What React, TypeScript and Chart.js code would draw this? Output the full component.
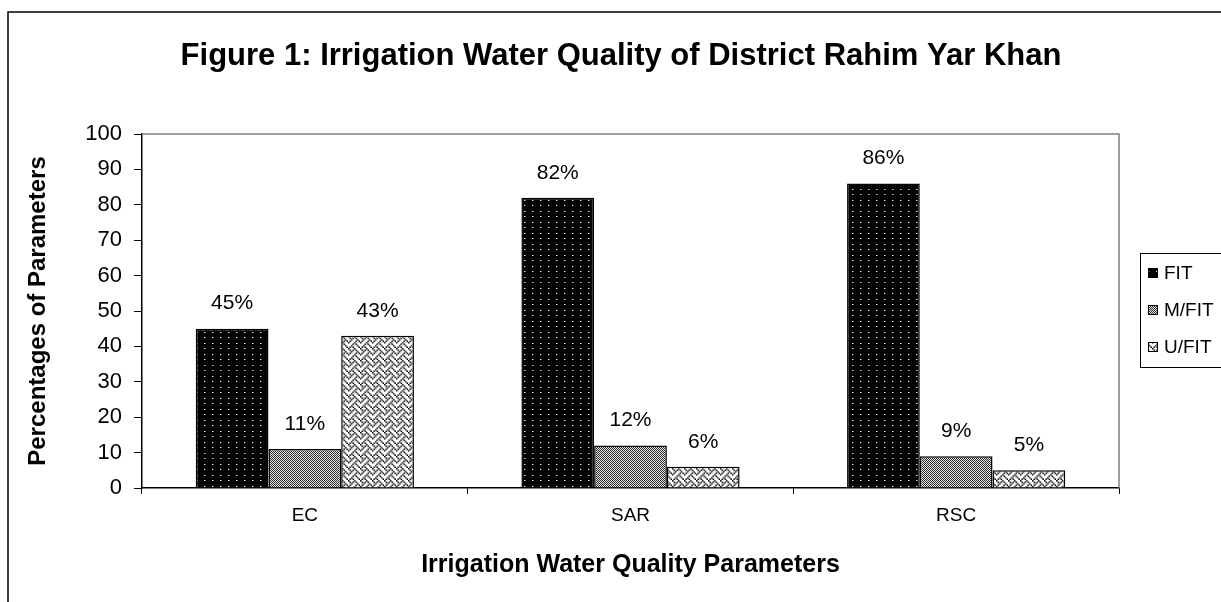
import React, { useEffect, useRef } from "react";
import { Chart, registerables } from "chart.js";

Chart.register(...registerables);

const chartTitle = "Figure 1: Irrigation Water Quality of District Rahim Yar Khan";
const xAxisTitle = "Irrigation Water Quality Parameters";
const yAxisTitle = "Percentages of Parameters";
const categories = ["EC", "SAR", "RSC"];
const seriesNames = ["FIT", "M/FIT", "U/FIT"];
const fitValues = [45, 82, 86];
const mfitValues = [11, 12, 9];
const ufitValues = [43, 6, 5];
const yMin = 0;
const yMax = 100;
const yStep = 10;

const FONT = "'Liberation Sans', Arial, sans-serif";

function makePattern(kind: string): CanvasPattern | string {
  const c = document.createElement("canvas");
  const ctx = c.getContext("2d");
  if (!ctx) return "#888";
  if (kind === "dots") {
    c.width = 8;
    c.height = 11;
    ctx.fillStyle = "#000";
    ctx.fillRect(0, 0, 8, 11);
    ctx.fillStyle = "#e6e6e6";
    ctx.fillRect(4, 2, 1, 1);
    ctx.fillRect(4, 7, 1, 1);
    ctx.fillStyle = "#707070";
    ctx.fillRect(5, 2, 1, 1);
    ctx.fillRect(5, 7, 1, 1);
  } else if (kind === "checker") {
    c.width = 2;
    c.height = 2;
    ctx.fillStyle = "#e4e4e4";
    ctx.fillRect(0, 0, 2, 2);
    ctx.fillStyle = "#2e2e2e";
    ctx.fillRect(0, 0, 1, 1);
    ctx.fillRect(1, 1, 1, 1);
  } else {
    const rows = [0x88, 0x54, 0x22, 0x45, 0x88, 0x14, 0x22, 0x51];
    const src = document.createElement("canvas");
    src.width = 8;
    src.height = 8;
    const sctx = src.getContext("2d")!;
    sctx.fillStyle = "#fff";
    sctx.fillRect(0, 0, 8, 8);
    sctx.fillStyle = "#000";
    rows.forEach((r, y) => {
      for (let x = 0; x < 8; x++) {
        if (r & (0x80 >> x)) sctx.fillRect(x, y, 1, 1);
      }
    });
    c.width = 12;
    c.height = 12;
    ctx.imageSmoothingEnabled = true;
    ctx.drawImage(src, 0, 0, 12, 12);
  }
  return ctx.createPattern(c, "repeat") || "#888";
}

export default function App() {
  const ref = useRef<HTMLCanvasElement>(null);

  useEffect(() => {
    if (!ref.current) return;
    const fills = [makePattern("dots"), makePattern("checker"), makePattern("weave")];
    const seriesValues = [fitValues, mfitValues, ufitValues];

    const decor = {
      id: "decor",
      beforeDraw(chart: any) {
        const ctx = chart.ctx;
        ctx.save();
        ctx.fillStyle = "#fff";
        ctx.fillRect(0, 0, chart.width, chart.height);
        ctx.restore();
      },
      afterDraw(chart: any) {
        const ctx = chart.ctx;
        const a = chart.chartArea;
        ctx.save();
        // outer frame
        ctx.strokeStyle = "#000";
        ctx.lineWidth = 1.5;
        ctx.beginPath();
        ctx.moveTo(8, chart.height);
        ctx.lineTo(8, 12);
        ctx.lineTo(chart.width, 12);
        ctx.stroke();
        // plot area border (top & right)
        ctx.strokeStyle = "#808080";
        ctx.lineWidth = 1.5;
        ctx.beginPath();
        ctx.moveTo(a.left, a.top);
        ctx.lineTo(a.right, a.top);
        ctx.lineTo(a.right, a.bottom);
        ctx.stroke();
        // title
        ctx.fillStyle = "#000";
        ctx.font = `bold 31px ${FONT}`;
        ctx.textAlign = "center";
        ctx.textBaseline = "middle";
        ctx.fillText(chartTitle, 621, 56);
        // legend
        ctx.strokeStyle = "#000";
        ctx.lineWidth = 1;
        ctx.strokeRect(1140.5, 253.5, 200, 114);
        ctx.font = `19px ${FONT}`;
        ctx.textAlign = "left";
        seriesNames.forEach((name, i) => {
          const cy = 273 + i * 37;
          ctx.fillStyle = fills[i] as any;
          ctx.fillRect(1148, cy - 5, 10, 10);
          ctx.strokeStyle = "#000";
          ctx.strokeRect(1148.5, cy - 4.5, 9, 9);
          ctx.fillStyle = "#000";
          ctx.fillText(name, 1164, cy + 1);
        });
        // value labels
        ctx.font = `21px ${FONT}`;
        ctx.textAlign = "center";
        ctx.textBaseline = "middle";
        chart.data.datasets.forEach((ds: any, di: number) => {
          const meta = chart.getDatasetMeta(di);
          meta.data.forEach((el: any, j: number) => {
            ctx.fillText(`${ds.data[j]}%`, el.x, el.y - 25);
          });
        });
        ctx.restore();
      },
    };

    const chart = new Chart(ref.current, {
      type: "bar",
      data: {
        labels: categories,
        datasets: seriesNames.map((name, i) => ({
          label: name,
          data: seriesValues[i],
          backgroundColor: fills[i] as any,
          borderColor: "#000",
          borderWidth: 1.5,
          borderSkipped: "bottom",
          categoryPercentage: 0.67,
          barPercentage: 1.0,
        })),
      },
      options: {
        animation: false,
        responsive: false,
        devicePixelRatio: 1,
        font: { family: FONT },
        layout: { padding: { top: 134, right: 102, left: 0, bottom: 0 } },
        plugins: {
          legend: { display: false },
          title: { display: false },
          tooltip: { enabled: false },
        },
        scales: {
          x: {
            type: "category",
            afterFit: (s: any) => {
              s.height = 114;
            },
            grid: {
              display: true,
              offset: true,
              drawOnChartArea: false,
              drawTicks: true,
              tickLength: 6,
              color: "#000",
            },
            border: { display: true, color: "#000", width: 1.5 },
            ticks: {
              color: "#000",
              font: { family: FONT, size: 19 },
              padding: 10,
            },
            title: {
              display: true,
              text: xAxisTitle,
              color: "#000",
              font: { family: FONT, size: 25, weight: "bold" },
              padding: { top: 0, bottom: 22 },
            },
          },
          y: {
            min: yMin,
            max: yMax,
            afterFit: (s: any) => {
              s.width = 142;
            },
            ticks: {
              stepSize: yStep,
              color: "#000",
              font: { family: FONT, size: 22 },
              padding: 12,
            },
            grid: {
              display: true,
              drawOnChartArea: false,
              drawTicks: true,
              tickLength: 8,
              color: "#000",
            },
            border: { display: true, color: "#000", width: 1.5 },
            title: {
              display: true,
              text: yAxisTitle,
              color: "#000",
              font: { family: FONT, size: 24, weight: "bold" },
              padding: { top: 24, bottom: 0 },
            },
          },
        },
      },
      plugins: [decor],
    });
    return () => chart.destroy();
  }, []);

  return (
    <div style={{ position: "fixed", left: 0, top: 0, width: 1221, height: 602, overflow: "hidden", background: "#fff" }}>
      <canvas ref={ref} width={1221} height={602} style={{ display: "block" }} />
    </div>
  );
}
